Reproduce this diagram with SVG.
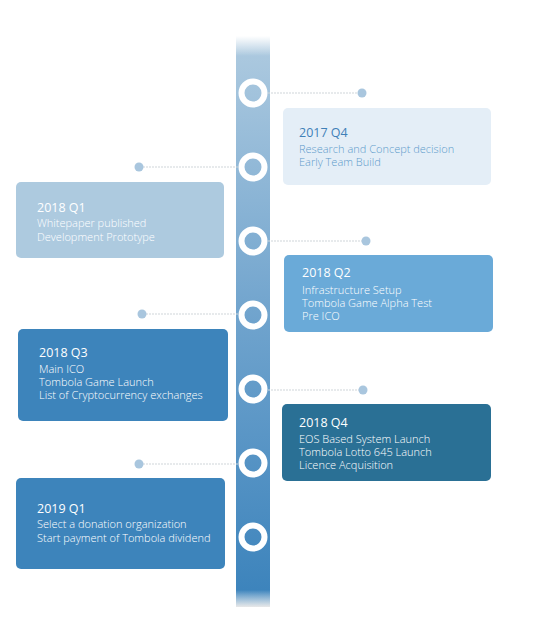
<svg xmlns="http://www.w3.org/2000/svg" width="549" height="623" viewBox="0 0 549 623">
<defs>
<linearGradient id="bar" x1="0" y1="0" x2="0" y2="1">
<stop offset="0" stop-color="#afcbe0"/>
<stop offset="0.5" stop-color="#6fa3cd"/>
<stop offset="1" stop-color="#3a82bb"/>
</linearGradient>
<linearGradient id="fadeTop" x1="0" y1="0" x2="0" y2="1">
<stop offset="0" stop-color="#ffffff" stop-opacity="1"/>
<stop offset="1" stop-color="#ffffff" stop-opacity="0"/>
</linearGradient>
<linearGradient id="fadeBot" x1="0" y1="0" x2="0" y2="1">
<stop offset="0" stop-color="#ffffff" stop-opacity="0"/>
<stop offset="1" stop-color="#e8e8e8" stop-opacity="1"/>
</linearGradient>
</defs>
<style>
.ring{fill:none;stroke:#ffffff;stroke-width:6}
.dot{fill:#a9c6de}
.link{stroke:#cfd5d9;stroke-width:1;stroke-dasharray:2 1;fill:none}
.t{font-family:"Open Sans","Noto Sans",sans-serif;font-size:12.5px;font-weight:400}
.b{font-family:"Open Sans","Noto Sans",sans-serif;font-size:11px;font-weight:300}
</style>
<g id="timeline">
<rect x="236" y="36" width="34" height="571" fill="url(#bar)"/>
<rect x="236" y="36" width="34" height="20" fill="url(#fadeTop)"/>
<rect x="236" y="590" width="34" height="17" fill="url(#fadeBot)"/>
<circle class="ring" cx="253" cy="93" r="11.5"/>
<circle class="ring" cx="253" cy="167" r="11.5"/>
<circle class="ring" cx="253" cy="241" r="11.5"/>
<circle class="ring" cx="253" cy="315" r="11.5"/>
<circle class="ring" cx="253" cy="389" r="11.5"/>
<circle class="ring" cx="253" cy="463" r="11.5"/>
<circle class="ring" cx="253" cy="537" r="11.5"/>
</g>
<g id="connectors">
<line class="link" x1="268" y1="93" x2="358" y2="93"/>
<circle class="dot" cx="362" cy="93" r="4.5"/>
<line class="link" x1="143" y1="167" x2="238" y2="167"/>
<circle class="dot" cx="139" cy="167" r="4.5"/>
<line class="link" x1="268" y1="241" x2="362" y2="241"/>
<circle class="dot" cx="366" cy="241" r="4.5"/>
<line class="link" x1="146" y1="314" x2="238" y2="314"/>
<circle class="dot" cx="142" cy="314" r="4.5"/>
<line class="link" x1="268" y1="390" x2="359" y2="390"/>
<circle class="dot" cx="363" cy="390" r="4.5"/>
<line class="link" x1="143" y1="464" x2="238" y2="464"/>
<circle class="dot" cx="139" cy="464" r="4.5"/>
</g>
<g id="node-2017q4">
<rect x="283" y="108" width="208" height="77" rx="5" fill="#e4eef7"/>
<text class="t" x="299" y="137" fill="#3f80b8">2017 Q4</text>
<text class="b" x="299" y="153" fill="#5e9bcb">Research and Concept decision</text>
<text class="b" x="299" y="166" fill="#5e9bcb">Early Team Build</text>
</g>
<g id="node-2018q1">
<rect x="16" y="182" width="208" height="76" rx="5" fill="#adcadf"/>
<text class="t" x="37" y="212" fill="#ffffff">2018 Q1</text>
<text class="b" x="37" y="227" fill="#ffffff">Whitepaper published</text>
<text class="b" x="37" y="241" fill="#ffffff">Development Prototype</text>
</g>
<g id="node-2018q2">
<rect x="284" y="255" width="209" height="77" rx="5" fill="#6aaad8"/>
<text class="t" x="302" y="277" fill="#ffffff">2018 Q2</text>
<text class="b" x="302" y="294" fill="#ffffff">Infrastructure Setup</text>
<text class="b" x="302" y="307" fill="#ffffff">Tombola Game Alpha Test</text>
<text class="b" x="302" y="320" fill="#ffffff">Pre ICO</text>
</g>
<g id="node-2018q3">
<rect x="18" y="329" width="210" height="92" rx="5" fill="#3d84bb"/>
<text class="t" x="39" y="357" fill="#ffffff">2018 Q3</text>
<text class="b" x="39" y="373" fill="#ffffff">Main ICO</text>
<text class="b" x="39" y="386" fill="#ffffff">Tombola Game Launch</text>
<text class="b" x="39" y="399" fill="#ffffff">List of Cryptocurrency exchanges</text>
</g>
<g id="node-2018q4">
<rect x="282" y="404" width="209" height="77" rx="5" fill="#2a7095"/>
<text class="t" x="299" y="427" fill="#ffffff">2018 Q4</text>
<text class="b" x="299" y="443" fill="#ffffff">EOS Based System Launch</text>
<text class="b" x="299" y="456" fill="#ffffff">Tombola Lotto 645 Launch</text>
<text class="b" x="299" y="469" fill="#ffffff">Licence Acquisition</text>
</g>
<g id="node-2019q1">
<rect x="16" y="478" width="209" height="91" rx="5" fill="#3d84bb"/>
<text class="t" x="37" y="513" fill="#ffffff">2019 Q1</text>
<text class="b" x="37" y="528" fill="#ffffff">Select a donation organization</text>
<text class="b" x="37" y="542" fill="#ffffff">Start payment of Tombola dividend</text>
</g>
</svg>
